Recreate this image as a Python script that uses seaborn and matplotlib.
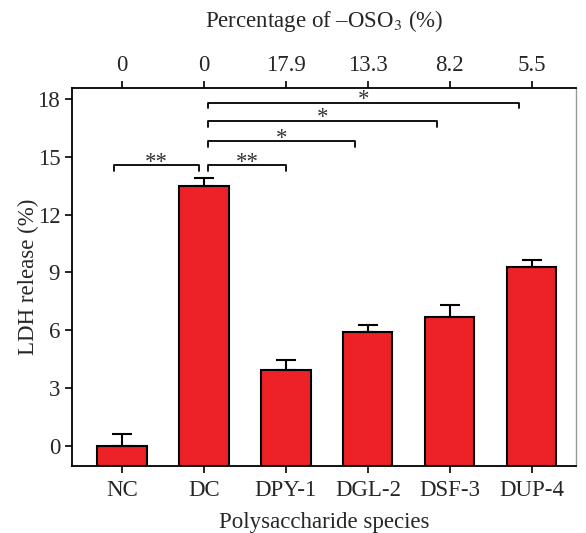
import matplotlib
matplotlib.use("Agg")
import matplotlib.pyplot as plt
import seaborn as sns
import pandas as pd

species = ["NC", "DC", "DPY-1", "DGL-2", "DSF-3", "DUP-4"]
ldh_release = [0.02, 13.5, 3.95, 5.9, 6.7, 9.3]
ldh_error = [0.62, 0.4, 0.5, 0.4, 0.6, 0.35]
oso3_labels = ["0", "0", "17.9", "13.3", "8.2", "5.5"]
y_ticks = [0, 3, 6, 9, 12, 15, 18]
# significance brackets: (from index, to index, height, label)
brackets = [(0, 1, 14.55, "**"), (1, 2, 14.55, "**"), (1, 3, 15.8, "*"),
            (1, 4, 16.85, "*"), (1, 5, 17.8, "*")]

sns.set_style("white")
plt.rcParams["font.family"] = ["Liberation Serif", "DejaVu Serif"]
plt.rcParams["mathtext.fontset"] = "stix"
FS = 16.5

fig = plt.figure(figsize=(5.86, 5.33), dpi=100)
ax = fig.add_axes([0.1229, 0.1257, 0.8601, 0.7092])

YMIN, YMAX = -1.04, 18.57
df = pd.DataFrame({"species": species, "ldh": ldh_release})
sns.barplot(data=df, x="species", y="ldh", color="#EC2227", saturation=1,
            edgecolor="black", linewidth=1.5, width=0.6, ax=ax, errorbar=None)
# bars rise from the bottom of the frame
for patch, val in zip(ax.patches, ldh_release):
    patch.set_y(YMIN)
    patch.set_height(val - YMIN)
xs = list(range(len(species)))
ax.errorbar(xs, ldh_release, yerr=[[0] * len(species), ldh_error], fmt="none",
            ecolor="black", elinewidth=1.5, capsize=7, capthick=1.5, zorder=1)

ax.set_xlim(-0.61, 5.54)
ax.set_ylim(YMIN, YMAX)
ax.set_yticks(y_ticks)
ax.set_yticklabels([str(v) for v in y_ticks])
ax.set_xlabel("Polysaccharide species", fontsize=FS, labelpad=8)
ax.set_ylabel("LDH release (%)", fontsize=FS, labelpad=-1)
ax.tick_params(axis="both", labelsize=FS, direction="out", length=5, width=1.2,
               color="black", left=True, bottom=True)
ax.tick_params(axis="x", pad=5)

for side in ["left", "bottom", "top"]:
    ax.spines[side].set_color("black")
    ax.spines[side].set_linewidth(1.3)
ax.spines["right"].set_color("#999999")
ax.spines["right"].set_linewidth(1.0)

ax2 = ax.twiny()
ax2.set_xlim(ax.get_xlim())
ax2.set_xticks(xs)
ax2.set_xticklabels(oso3_labels)
ax2.tick_params(axis="x", labelsize=FS, direction="out", length=5, width=1.2,
                color="black", top=True)
ax2.set_xlabel(r"Percentage of –OSO$_3$ (%)", fontsize=FS, labelpad=20)
for s in ax2.spines.values():
    s.set_visible(False)

# significance brackets
tick_h = 0.28
for i, j, h, lab in brackets:
    x0 = i - 0.1 if i == 0 else i + 0.05
    x1 = j - 0.06 if i == 0 else (j if j == 2 else j - 0.16)
    ax.plot([x0, x0, x1, x1], [h - tick_h, h, h, h - tick_h], color="black", lw=1.3)
    ax.text((x0 + x1) / 2, h - 0.12, lab, ha="center", va="baseline",
            fontsize=FS, color="#333333")

fig.savefig("out.png", dpi=100)
